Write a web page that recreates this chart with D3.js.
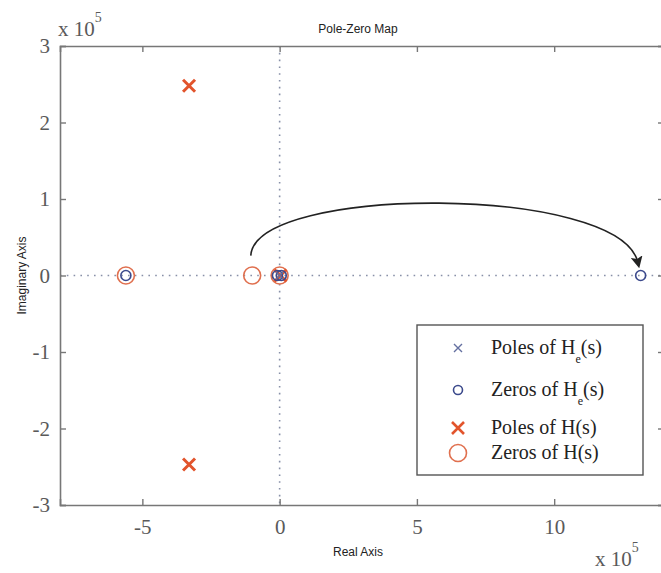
<!DOCTYPE html>
<html><head><meta charset="utf-8">
<script src="https://cdn.jsdelivr.net/npm/d3@7/dist/d3.min.js"></script>
<style>body{margin:0;background:#fff}svg{display:block}</style>
</head><body><svg id="c" width="661" height="573"></svg>
<script>
const xTicks = [-5, 0, 5, 10];
const yTicks = [-3, -2, -1, 0, 1, 2, 3];
const polesH = [[-3.3, 2.48], [-3.3, -2.47], [0.03, 0]];
const zerosH = [[-5.6, 0], [-1.0, 0], [0.0, 0]];
const polesHe = [[0.0, 0]];
const zerosHe = [[-5.6, 0], [-0.08, 0], [0.06, 0], [13.15, 0]];
const legendLabels = [["Poles of H", "e", "(s)"], ["Zeros of H", "e", "(s)"], ["Poles of H(s)", "", ""], ["Zeros of H(s)", "", ""]];
const arrowPts = [[-1.05, 0.26], [-0.9, 1.19], [12.4, 1.19], [13.05, 0.17]];

const svg = d3.select("#c");
const x = d3.scaleLinear().domain([-8, 14]).range([60, 664]);
const y = d3.scaleLinear().domain([-3, 3]).range([505, 46]);
const axisCol = "#777", txtCol = "#5a5a5a";
const serif = "'Liberation Serif','Times New Roman',serif";
const sans = "'Liberation Sans',Arial,sans-serif";
const fmt = d => String(d);

// zero lines dotted
svg.append("line").attr("x1", x(-8)).attr("x2", x(14)).attr("y1", y(0)).attr("y2", y(0))
  .attr("stroke", "#8890a8").attr("stroke-width", 1.6).attr("stroke-dasharray", "1.6,5.2");
svg.append("line").attr("x1", x(0)).attr("x2", x(0)).attr("y1", y(3)).attr("y2", y(-3))
  .attr("stroke", "#8890a8").attr("stroke-width", 1.6).attr("stroke-dasharray", "1.6,5.2");

// axes
const gb = svg.append("g").attr("transform", `translate(0,${y(-3)})`)
  .call(d3.axisBottom(x).tickValues(xTicks).tickSize(-6).tickPadding(14).tickFormat(fmt));
const gt = svg.append("g").attr("transform", `translate(0,${y(3)})`)
  .call(d3.axisTop(x).tickValues(xTicks).tickSize(-6).tickFormat(""));
const gl = svg.append("g").attr("transform", `translate(${x(-8)},0)`)
  .call(d3.axisLeft(y).tickValues(yTicks).tickSize(-6).tickPadding(10).tickFormat(fmt));
const gr = svg.append("g").attr("transform", `translate(${x(14)},0)`)
  .call(d3.axisRight(y).tickValues(yTicks).tickSize(-6).tickFormat(""));
[gb, gt, gl, gr].forEach(g => {
  g.select(".domain").attr("stroke", axisCol).attr("stroke-width", 1.6);
  g.selectAll(".tick line").attr("stroke", axisCol).attr("stroke-width", 1.4);
  g.selectAll("text").attr("fill", txtCol).attr("font-family", serif).attr("font-size", 21);
});
gb.selectAll("text").attr("dy", "0.71em");

// title and labels
svg.append("text").attr("x", 358).attr("y", 33).attr("text-anchor", "middle")
  .attr("font-family", sans).attr("font-size", 12).attr("fill", "#222").text("Pole-Zero Map");
svg.append("text").attr("x", 358).attr("y", 556).attr("text-anchor", "middle")
  .attr("font-family", sans).attr("font-size", 12).attr("fill", "#222").text("Real Axis");
svg.append("text").attr("transform", `translate(26,${y(0)}) rotate(-90)`).attr("text-anchor", "middle")
  .attr("font-family", sans).attr("font-size", 12).attr("fill", "#222").text("Imaginary Axis");

function expo(xp, yp) {
  const t = svg.append("text").attr("x", xp).attr("y", yp).attr("font-family", serif)
    .attr("font-size", 21).attr("fill", txtCol);
  t.append("tspan").text("x 10");
  t.append("tspan").attr("dy", -14).attr("font-size", 14).text("5");
}
expo(58, 36);
expo(595, 566);

// arrow
svg.append("defs").append("marker").attr("id", "ah").attr("viewBox", "0 0 10 10")
  .attr("refX", 5).attr("refY", 5).attr("markerWidth", 12).attr("markerHeight", 12)
  .attr("markerUnits", "userSpaceOnUse").attr("orient", "auto")
  .append("path").attr("d", "M0,0 L10,5 L0,10 L2,5 Z").attr("fill", "#222");
const ap = arrowPts.map(p => [x(p[0]), y(p[1])]);
svg.append("path")
  .attr("d", `M${ap[0]} C${ap[1]} ${ap[2]} ${ap[3]}`)
  .attr("fill", "none").attr("stroke", "#222").attr("stroke-width", 1.6).attr("marker-end", "url(#ah)");

const red = "#e2542c", redO = "#e0704f", blue = "#3c4a8c", blueX = "#6470a0";
function drawX(g, cx, cy, s, col, w) {
  g.append("path").attr("d", `M${cx - s},${cy - s}L${cx + s},${cy + s}M${cx - s},${cy + s}L${cx + s},${cy - s}`)
    .attr("stroke", col).attr("stroke-width", w).attr("fill", "none");
}
function drawO(g, cx, cy, r, col, w) {
  g.append("circle").attr("cx", cx).attr("cy", cy).attr("r", r).attr("fill", "none")
    .attr("stroke", col).attr("stroke-width", w);
}
const m = svg.append("g");
zerosH.forEach(p => drawO(m, x(p[0]), y(p[1]), 8.5, redO, 1.6));
polesH.forEach(p => drawX(m, x(p[0]), y(p[1]), 6, red, 3));
zerosHe.forEach(p => drawO(m, x(p[0]), y(p[1]), 5, blue, 1.6));
polesHe.forEach(p => drawX(m, x(p[0]), y(p[1]), 3.5, blueX, 1.3));

// legend
const lg = svg.append("g");
lg.append("rect").attr("x", 417).attr("y", 325).attr("width", 226).attr("height", 150)
  .attr("fill", "#fff").attr("stroke", "#555").attr("stroke-width", 1.4);
const rowY = [348, 390, 428, 453];
drawX(lg, 458, rowY[0], 4, blueX, 1.4);
drawO(lg, 458, rowY[1], 4.5, blue, 1.6);
drawX(lg, 458, rowY[2], 6, red, 2.6);
drawO(lg, 458, rowY[3], 8.5, redO, 1.6);
legendLabels.forEach((l, i) => {
  const t = lg.append("text").attr("x", 491).attr("y", rowY[i] + 6).attr("font-family", serif)
    .attr("font-size", 20).attr("fill", "#222");
  t.append("tspan").text(l[0]);
  if (l[1]) {
    t.append("tspan").attr("dy", 9).attr("font-size", 12).text(l[1]);
    t.append("tspan").attr("dy", -9).text(l[2]);
  }
});
</script></body></html>
